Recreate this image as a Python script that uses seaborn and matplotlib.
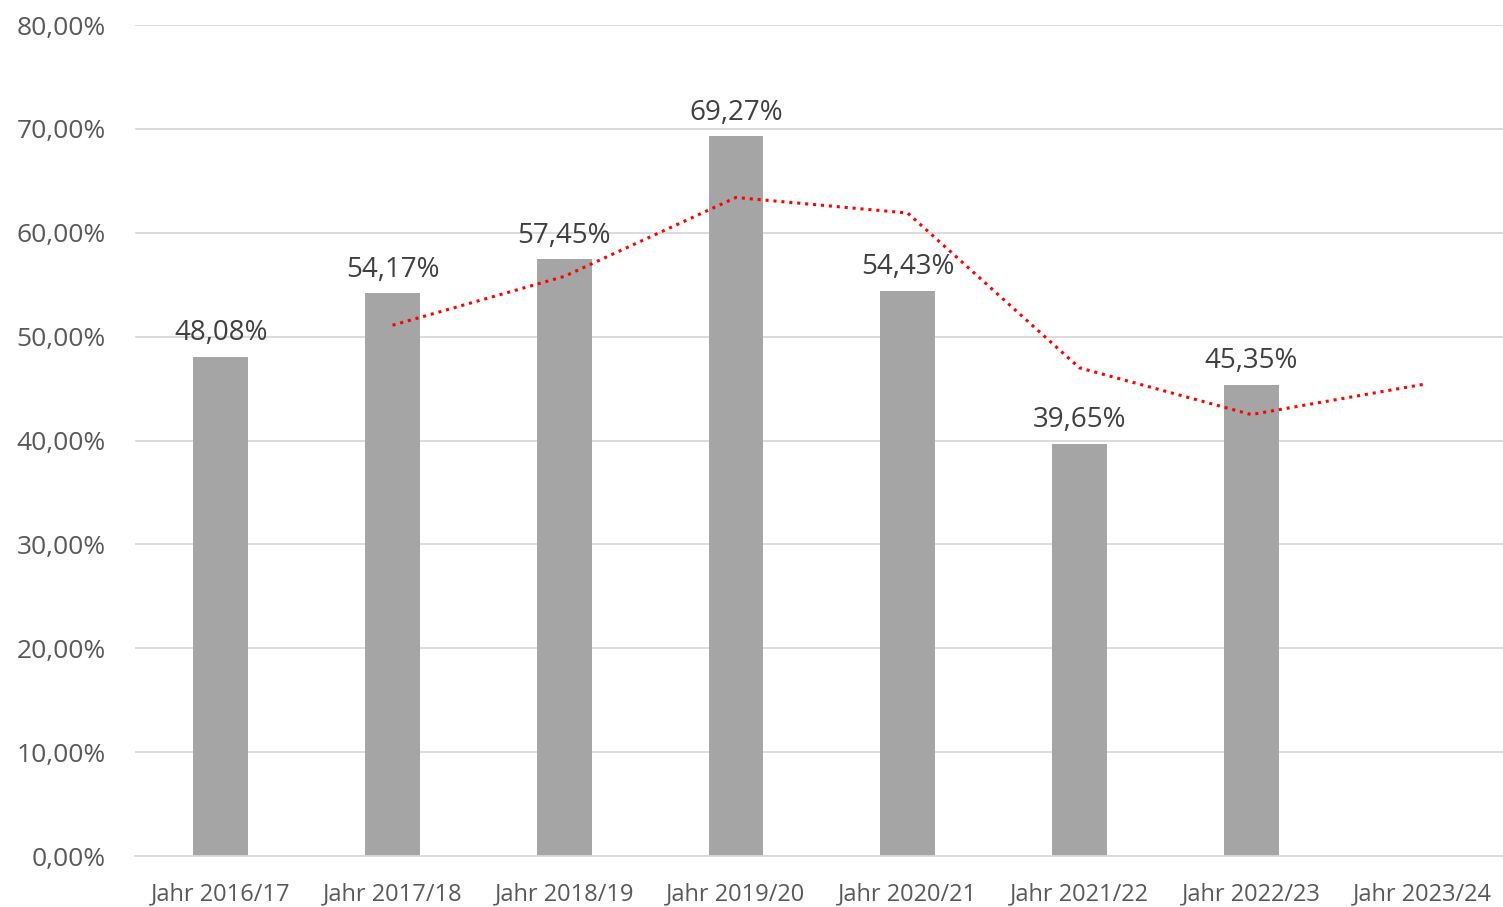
import numpy as np
import pandas as pd
import matplotlib
matplotlib.use("Agg")
import matplotlib.pyplot as plt
from matplotlib.ticker import FuncFormatter, MultipleLocator
import seaborn as sns

# Data
years = ["Jahr 2016/17", "Jahr 2017/18", "Jahr 2018/19", "Jahr 2019/20",
         "Jahr 2020/21", "Jahr 2021/22", "Jahr 2022/23", "Jahr 2023/24"]
bar_years = years[:7]
rates = [48.08, 54.17, 57.45, 69.27, 54.43, 39.65, 45.35]
trend_years = years[1:]
trend = [51.1, 55.8, 63.4, 61.9, 47.0, 42.5, 45.4]

sns.set_theme(style="white")
plt.rcParams["font.family"] = ["Open Sans", "DejaVu Sans"]

df = pd.DataFrame({"year": bar_years, "rate": rates})

fig = plt.figure(figsize=(15.03, 9.07), dpi=100)
ax = fig.add_axes([0.0898, 0.0562, 0.914, 0.9162])

sns.barplot(data=df, x="year", y="rate", order=years, color="#a5a5a5",
            saturation=1, width=0.32, linewidth=0, ax=ax, zorder=2)

labels = [f"{v:.2f}%".replace(".", ",") for v in rates]
bars = [b for b in ax.patches if b is not None and np.isfinite(b.get_height())]
for b, lab in zip(bars, labels):
    ax.annotate(lab, (b.get_x() + b.get_width() / 2, b.get_height()),
                xytext=(0, 7), textcoords="offset points", ha="center", va="bottom",
                fontsize=20, color="#404040")

# 2-period moving average trend line
pos = [years.index(y) for y in trend_years]
ax.plot(pos, trend, color="#ff0000", linestyle=(0, (1, 1.6)), linewidth=2.2, zorder=3)

ax.set_ylim(0, 80)
ax.set_xlim(-0.5, len(years) - 0.5)
ax.yaxis.set_major_locator(MultipleLocator(10))
ax.yaxis.set_major_formatter(FuncFormatter(lambda v, p: f"{v:.2f}%".replace(".", ",")))
ax.grid(axis="y", color="#d9d9d9", linewidth=1.3, zorder=0)
ax.set_axisbelow(True)
for s in ["top", "left", "right"]:
    ax.spines[s].set_visible(False)
ax.spines["bottom"].set_color("#d9d9d9")
ax.spines["bottom"].set_linewidth(1.3)
ax.tick_params(axis="y", length=0, pad=21, labelsize=19, labelcolor="#595959")
ax.tick_params(axis="x", length=0, pad=19, labelsize=17, labelcolor="#595959")
ax.set_xlabel("")
ax.set_ylabel("")

fig.savefig("out.png", dpi=100)
